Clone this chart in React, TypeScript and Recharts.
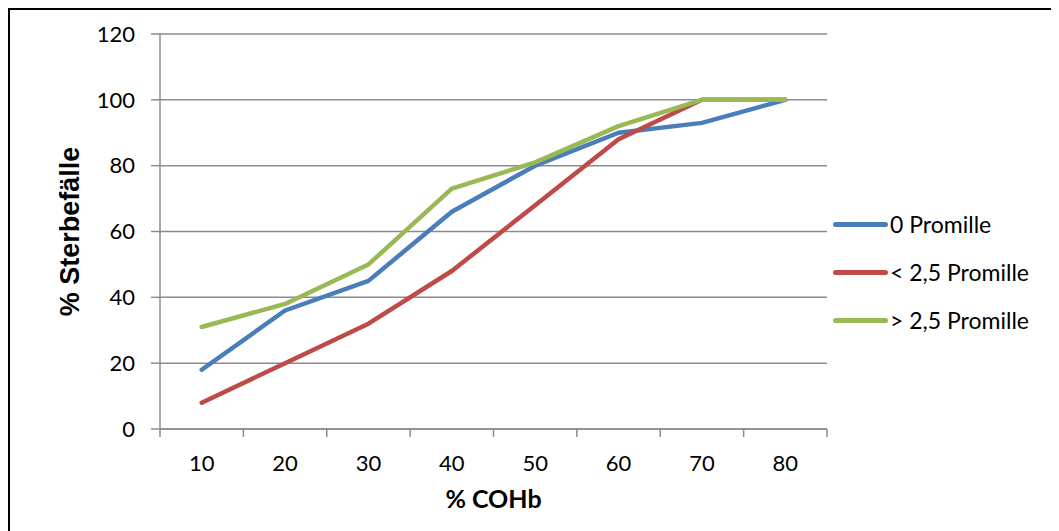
import { LineChart, Line, XAxis, YAxis, CartesianGrid } from 'recharts';

const COHB = [10, 20, 30, 40, 50, 60, 70, 80];
const NULL_PROMILLE = [18, 36, 45, 66, 80, 90, 93, 100];
const UNTER_PROMILLE = [8, 20, 32, 48, 68, 88, 100, 100];
const UEBER_PROMILLE = [31, 38, 50, 73, 81, 92, 100, 100];
const Y_TICKS = [0, 20, 40, 60, 80, 100, 120];
const BAND_EDGES = [5, 15, 25, 35, 45, 55, 65, 75, 85];

const SERIES = [
  { key: 'a', name: '0 Promille', color: '#4A7EBB' },
  { key: 'b', name: '< 2,5 Promille', color: '#BE4B48' },
  { key: 'c', name: '> 2,5 Promille', color: '#98B954' },
];

const data = COHB.map((x, i) => ({
  x,
  a: NULL_PROMILLE[i],
  b: UNTER_PROMILLE[i],
  c: UEBER_PROMILLE[i],
}));

const X_TICKS = [...BAND_EDGES, ...COHB].sort((a, b) => a - b);

const FONT = 'Lato, Calibri, sans-serif';
const GRID = '#8c8c8c';

// Excel style: tick marks between categories, labels in the middle
function XTick(props: any) {
  const { x, y, payload } = props;
  if (BAND_EDGES.includes(payload.value)) {
    return <line x1={x} x2={x} y1={y} y2={y + 8} stroke={GRID} strokeWidth={1.5} />;
  }
  return (
    <text
      x={x}
      y={y + 33}
      textAnchor="middle"
      dominantBaseline="central"
      style={{ fontFamily: FONT, fontSize: 22, fill: '#000' }}
    >
      {payload.value}
    </text>
  );
}

function ChartLegend() {
  return (
    <div style={{ position: 'absolute', left: 823, top: 190, fontFamily: FONT, fontSize: 23, color: '#000' }}>
      {SERIES.map((s) => (
        <div key={s.key} style={{ display: 'flex', alignItems: 'center', height: 48, whiteSpace: 'nowrap' }}>
          <div style={{ width: 55, height: 5, borderRadius: 3, background: s.color, marginRight: 2 }} />
          <span>{s.name}</span>
        </div>
      ))}
    </div>
  );
}

export default function App() {
  return (
    <div
      style={{
        position: 'relative',
        width: 1051,
        height: 523,
        boxSizing: 'border-box',
        borderTop: '2px solid #000',
        borderLeft: '2px solid #000',
        background: '#fff',
        overflow: 'hidden',
      }}
    >
      <LineChart width={1039} height={509} data={data} margin={{ top: 24, right: 222, bottom: 0, left: 60 }}>
        <CartesianGrid vertical={false} stroke={GRID} strokeWidth={1.5} />
        <XAxis
          dataKey="x"
          type="number"
          domain={[5, 85]}
          ticks={X_TICKS}
          interval={0}
          stroke={GRID}
          strokeWidth={1.5}
          tickLine={false}
          tickSize={0}
          tickMargin={0}
          height={90}
          tick={<XTick />}
          label={{
            content: (p: any) => (
              <text
                x={p.viewBox.x + p.viewBox.width / 2}
                y={p.viewBox.y + 69}
                textAnchor="middle"
                dominantBaseline="central"
                style={{ fontFamily: FONT, fontSize: 25, fontWeight: 700, fill: '#000' }}
              >
                % COHb
              </text>
            ),
          }}
        />
        <YAxis
          domain={[0, 120]}
          ticks={Y_TICKS}
          width={90}
          stroke={GRID}
          strokeWidth={1.5}
          tickSize={9}
          tickMargin={16}
          tick={{ fontFamily: FONT, fontSize: 22, fill: '#000' }}
          label={{
            content: (p: any) => {
              const cx = p.viewBox.x;
              const cy = p.viewBox.y + p.viewBox.height / 2;
              return (
                <text
                  x={cx}
                  y={cy}
                  textAnchor="middle"
                  dominantBaseline="central"
                  transform={`rotate(-90, ${cx}, ${cy})`}
                  style={{ fontFamily: '"Liberation Sans", Arial, sans-serif', fontSize: 27, fontWeight: 700, fill: '#000' }}
                >
                  % Sterbefälle
                </text>
              );
            },
          }}
        />
        {SERIES.map((s) => (
          <Line
            key={s.key}
            dataKey={s.key}
            name={s.name}
            stroke={s.color}
            strokeWidth={4.5}
            strokeLinecap="round"
            strokeLinejoin="round"
            dot={false}
            isAnimationActive={false}
          />
        ))}
      </LineChart>
      <ChartLegend />
    </div>
  );
}
